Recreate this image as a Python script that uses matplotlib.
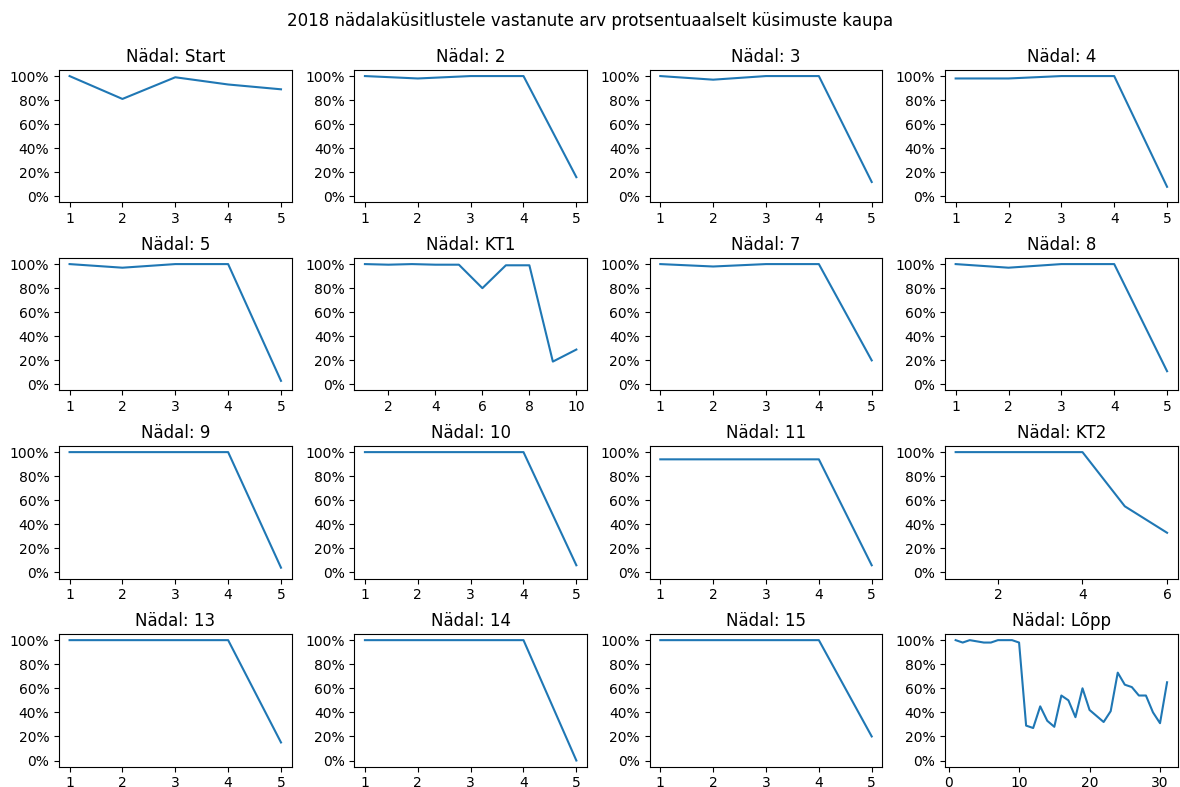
import matplotlib
matplotlib.use("Agg")
import matplotlib.pyplot as plt
from matplotlib.ticker import PercentFormatter

weeks = ["Start", "2", "3", "4", "5", "KT1", "7", "8",
         "9", "10", "11", "KT2", "13", "14", "15", "Lõpp"]

w_start = [100, 81, 99, 93, 89]
w_2 = [100, 98, 100, 100, 16]
w_3 = [100, 97, 100, 100, 12]
w_4 = [98, 98, 100, 100, 8]
w_5 = [100, 97, 100, 100, 3]
w_kt1 = [100, 99.5, 100, 99.5, 99.5, 80, 99, 99, 19, 29]
w_7 = [100, 98, 100, 100, 20]
w_8 = [100, 97, 100, 100, 11]
w_9 = [100, 100, 100, 100, 4]
w_10 = [100, 100, 100, 100, 6]
w_11 = [94, 94, 94, 94, 6]
w_kt2 = [100, 100, 100, 100, 55, 33]
w_13 = [100, 100, 100, 100, 15]
w_14 = [100, 100, 100, 100, 0]
w_15 = [100, 100, 100, 100, 20]
w_lopp = [100, 98, 100, 99, 98, 98, 100, 100, 100, 98,
          29, 27, 45, 33, 28, 54, 50, 36, 60, 42,
          37, 32, 41, 73, 63, 61, 54, 54, 40, 31, 65]

series = [w_start, w_2, w_3, w_4, w_5, w_kt1, w_7, w_8,
          w_9, w_10, w_11, w_kt2, w_13, w_14, w_15, w_lopp]

fig, axes = plt.subplots(4, 4, figsize=(11.8, 7.87), dpi=100)
fig.subplots_adjust(left=0.05, right=0.998, top=0.911, bottom=0.026,
                    wspace=0.27, hspace=0.42)
fig.suptitle("2018 nädalaküsitlustele vastanute arv protsentuaalselt küsimuste kaupa",
             y=0.985, fontsize=12)

for ax, name, vals in zip(axes.flat, weeks, series):
    xs = list(range(1, len(vals) + 1))
    ax.plot(xs, [v / 100 for v in vals], color="#1f77b4")
    ax.set_title(f"Nädal: {name}")
    ax.set_ylim(-0.05, 1.05)
    ax.set_yticks([0, 0.2, 0.4, 0.6, 0.8, 1.0])
    ax.yaxis.set_major_formatter(PercentFormatter(1.0, decimals=0))
    if len(vals) == 5:
        ax.set_xticks([1, 2, 3, 4, 5])

fig.savefig("out.png", dpi=100)
